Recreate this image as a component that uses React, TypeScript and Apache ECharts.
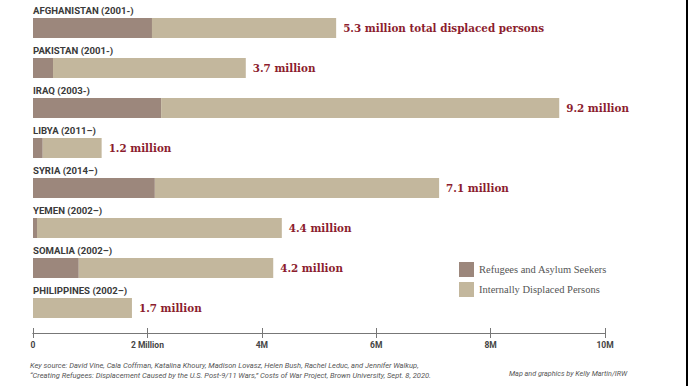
import React, { useEffect, useRef } from "react";
import * as echarts from "echarts";

const countries = [
  "AFGHANISTAN (2001-)",
  "PAKISTAN (2001-)",
  "IRAQ (2003-)",
  "LIBYA (2011–)",
  "SYRIA (2014–)",
  "YEMEN (2002–)",
  "SOMALIA (2002–)",
  "PHILIPPINES (2002–)",
];
const refugees = [2.08, 0.35, 2.24, 0.17, 2.13, 0.07, 0.8, 0];
const idps = [3.22, 3.37, 6.96, 1.03, 4.97, 4.28, 3.4, 1.73];
const valueLabels = [
  "5.3 million total displaced persons",
  "3.7 million",
  "9.2 million",
  "1.2 million",
  "7.1 million",
  "4.4 million",
  "4.2 million",
  "1.7 million",
];
const tickLabels: Record<number, string> = {
  0: "0",
  2: "2 Million",
  4: "4M",
  6: "6M",
  8: "8M",
  10: "10M",
};

export default function App() {
  const ref = useRef<HTMLDivElement>(null);
  useEffect(() => {
    if (!ref.current) return;
    const chart = echarts.init(ref.current, null, { renderer: "svg" });
    const axisCommon = {
      type: "value" as const,
      min: 0,
      max: 10,
      interval: 2,
      position: "bottom" as const,
      offset: 5,
      splitLine: { show: false },
      axisLine: { show: true, lineStyle: { color: "#777", width: 1 } },
    };
    chart.setOption({
      animation: false,
      backgroundColor: "#fff",
      grid: { left: 33, right: 83, top: 8, height: 320, containLabel: false },
      legend: {
        orient: "vertical",
        left: 454,
        top: 257,
        itemWidth: 15,
        itemHeight: 15,
        itemGap: 5,
        icon: "rect",
        textStyle: { fontFamily: "Liberation Serif", fontSize: 10.5, color: "#555" },
        data: ["Refugees and Asylum Seekers", "Internally Displaced Persons"],
      },
      xAxis: [
        {
          ...axisCommon,
          axisTick: { show: true, inside: false, length: 5, lineStyle: { color: "#777" } },
          axisLabel: {
            show: true,
            margin: 7,
            color: "#444",
            fontFamily: "Roboto",
            fontWeight: "bold",
            fontSize: 8.5,
            formatter: (v: number) => tickLabels[v] ?? "",
          },
        },
        {
          ...axisCommon,
          axisTick: { show: true, inside: true, length: 5, lineStyle: { color: "#777" } },
          axisLabel: { show: false },
        },
      ],
      yAxis: {
        type: "category",
        inverse: true,
        data: countries,
        axisLine: { show: false },
        axisTick: { show: false },
        axisLabel: {
          inside: true,
          margin: 0,
          color: "#3a3a3a",
          fontFamily: "Roboto",
          fontWeight: "bold",
          fontSize: 9.6,
          verticalAlign: "bottom",
          padding: [0, 0, 13, 0],
        },
      },
      series: [
        {
          name: "Refugees and Asylum Seekers",
          type: "bar",
          stack: "total",
          barWidth: 20,
          itemStyle: { color: "#9c877c" },
          data: refugees,
        },
        {
          name: "Internally Displaced Persons",
          type: "bar",
          stack: "total",
          barWidth: 20,
          itemStyle: { color: "#c3b79d" },
          label: {
            show: true,
            position: "right",
            distance: 7,
            color: "#8c1d2e",
            fontFamily: "'DejaVu Serif Condensed', 'DejaVu Serif'",
            fontWeight: "bold",
            fontSize: 11.5,
            formatter: (p: any) => valueLabels[p.dataIndex],
          },
          data: idps,
        },
      ],
      graphic: [
        {
          type: "text",
          left: 30,
          top: 360,
          style: {
            text:
              "Key source: David Vine, Cala Coffman, Katalina Khoury, Madison Lovasz, Helen Bush, Rachel Leduc, and Jennifer Walkup,\n\u201cCreating Refugees: Displacement Caused by the U.S. Post-9/11 Wars,\u201d Costs of War Project, Brown University, Sept. 8, 2020.",
            font: "italic 7.5px Roboto",
            fill: "#555",
            lineHeight: 10,
          },
        },
        {
          type: "text",
          left: 509,
          top: 370,
          style: {
            text: "Map and graphics by Kelly Martin/IRW",
            font: "italic 7.2px Roboto",
            fill: "#555",
          },
        },
        {
          type: "rect",
          shape: { x: 686, y: 0, width: 2, height: 386 },
          style: { fill: "#000" },
        },
      ],
    });
    return () => chart.dispose();
  }, []);
  return (
    <div
      ref={ref}
      style={{ position: "absolute", left: 0, top: 0, width: 688, height: 386 }}
    />
  );
}
